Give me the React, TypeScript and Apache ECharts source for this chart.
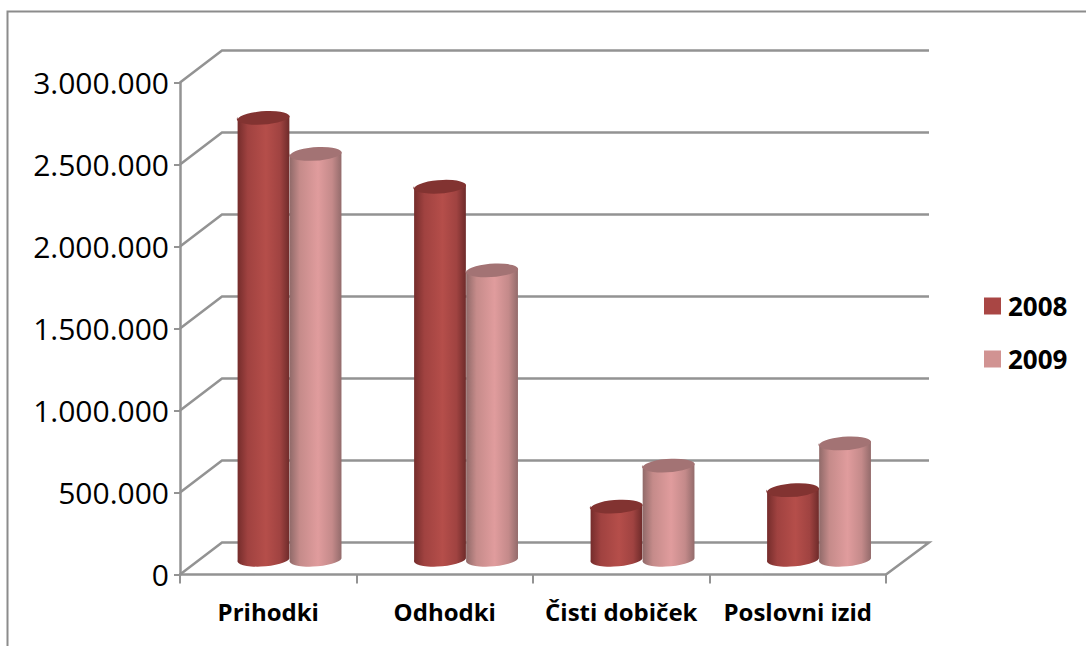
import React, { useEffect, useRef } from "react";
import * as echarts from "echarts";

const categories = ["Prihodki", "Odhodki", "Čisti dobiček", "Poslovni izid"];
const values2008 = [2690000, 2270000, 320000, 420000];
const values2009 = [2470000, 1760000, 570000, 705000];
const wallTicks = [0, 500000, 1000000, 1500000, 2000000, 2500000, 3000000];

const FONT = "Open Sans";
const LINE = "#939393";
const DEPTH_X = 42;
const DEPTH_Y = 32;
const TILT = (4 * Math.PI) / 180;

const gradient = (stops: [number, string][]) =>
  new echarts.graphic.LinearGradient(0, 0, 1, 0, stops.map(([offset, color]) => ({ offset, color })));

function cylinder(offsetBands: number, body: [number, string][], top: string) {
  return (params: any, api: any) => {
    const band = api.size([1, 0])[0];
    const [cx0, ty0] = api.coord([api.value(0), api.value(1)]);
    const [, by0] = api.coord([api.value(0), 0]);
    const cx = cx0 + band * offsetBands;
    const depthY = DEPTH_Y / 2;
    const ty = ty0 - depthY;
    const by = by0 - depthY;
    const rx = band * 0.147;
    const ry = 7;
    const ex = rx * Math.cos(TILT);
    const ey = rx * Math.sin(TILT);
    const ellipse = `M${cx - ex} ${ty + ey}A${rx} ${ry} -4 1 1 ${cx + ex} ${ty - ey}A${rx} ${ry} -4 1 1 ${cx - ex} ${ty + ey}Z`;
    const side = `M${cx - ex} ${ty + ey}L${cx - ex} ${by + ey}A${rx} ${ry} -4 0 0 ${cx + ex} ${by - ey}L${cx + ex} ${ty - ey}A${rx} ${ry} -4 0 1 ${cx - ex} ${ty + ey}Z`;
    return {
      type: "group",
      children: [
        { type: "path", shape: { pathData: side }, style: { fill: gradient(body) } },
        { type: "path", shape: { pathData: ellipse }, style: { fill: top } },
      ],
    };
  };
}

function wallLine(params: any, api: any) {
  const cs = params.coordSys;
  const v = api.value(1);
  const [, y] = api.coord([0, v]);
  const left = cs.x;
  const right = cs.x + cs.width;
  const points: number[][] = [
    [left, y],
    [left + DEPTH_X, y - DEPTH_Y],
    [right + DEPTH_X + 1, y - DEPTH_Y],
  ];
  if (v === 0) points.push([right, y]);
  return {
    type: "polyline",
    shape: { points },
    style: { stroke: LINE, lineWidth: 2.5, fill: "none" },
  };
}

const dark2008: [number, string][] = [
  [0, "#742c2b"],
  [0.2, "#a04240"],
  [0.55, "#b54e4a"],
  [0.82, "#a04341"],
  [1, "#6e2b2a"],
];
const light2009: [number, string][] = [
  [0, "#8f6968"],
  [0.2, "#c58b8a"],
  [0.55, "#e09c9d"],
  [0.82, "#c48a8a"],
  [1, "#936b6b"],
];

export default function App() {
  const ref = useRef<HTMLDivElement>(null);
  useEffect(() => {
    const chart = echarts.init(ref.current!, undefined, { renderer: "svg" });
    chart.setOption({
      animation: false,
      backgroundColor: "#ffffff",
      grid: { left: 180, top: 82.5, width: 706, height: 492 },
      legend: {
        data: ["2008", "2009"],
        orient: "vertical",
        left: 979,
        top: 288,
        icon: "rect",
        itemWidth: 17,
        itemHeight: 17,
        itemGap: 27,
        itemStyle: { borderWidth: 0 },
        textStyle: { fontFamily: FONT, fontWeight: "bold", fontSize: 26, color: "#000", padding: [0, 0, 0, 2] },
      },
      xAxis: {
        type: "category",
        data: categories,
        axisLine: { lineStyle: { color: LINE, width: 2.5 } },
        axisTick: { show: true, length: 9, lineStyle: { color: LINE, width: 2 } },
        axisLabel: { interval: 0, fontFamily: FONT, fontWeight: "bold", fontSize: 24, color: "#000", margin: 25 },
      },
      yAxis: {
        type: "value",
        min: 0,
        max: 3000000,
        interval: 500000,
        splitLine: { show: false },
        axisLine: { show: true, lineStyle: { color: LINE, width: 2.5 } },
        axisTick: { show: true, length: 6, lineStyle: { color: LINE, width: 2 } },
        axisLabel: {
          fontFamily: FONT,
          fontSize: 30,
          color: "#000",
          margin: 11,
          formatter: (v: number) => String(v).replace(/\B(?=(\d{3})+$)/g, "."),
        },
      },
      graphic: [
        {
          type: "polyline",
          silent: true,
          shape: { points: [[7.5, 646], [7.5, 11.5], [1086, 11.5]] },
          style: { stroke: "#8c8c8c", lineWidth: 2, fill: "none" },
        },
      ],
      series: [
        {
          type: "custom",
          name: "walls",
          z: 1,
          silent: true,
          renderItem: wallLine,
          encode: { x: 0, y: 1 },
          data: wallTicks.map((v) => [0, v]),
        },
        {
          type: "custom",
          name: "2008",
          z: 2,
          itemStyle: { color: "#a94644" },
          renderItem: cylinder(-0.027, dark2008, "#823331"),
          encode: { x: 0, y: 1 },
          data: values2008.map((v, i) => [i, v]),
        },
        {
          type: "custom",
          name: "2009",
          z: 3,
          itemStyle: { color: "#d19392" },
          renderItem: cylinder(0.268, light2009, "#a37374"),
          encode: { x: 0, y: 1 },
          data: values2009.map((v, i) => [i, v]),
        },
      ],
    });
    return () => chart.dispose();
  }, []);
  return <div ref={ref} style={{ position: "absolute", left: 0, top: 0, width: 1086, height: 646 }} />;
}
